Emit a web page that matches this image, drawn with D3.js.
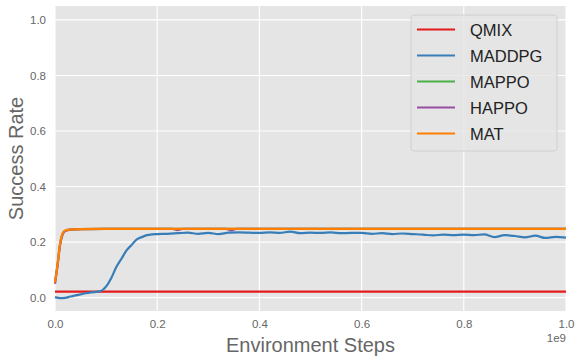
<!DOCTYPE html>
<html>
<head>
<meta charset="utf-8">
<script src="https://cdn.jsdelivr.net/npm/d3@7"></script>
<style>
  body { margin: 0; background: #fff; }
  text { font-family: "Liberation Sans", Arial, sans-serif; }
</style>
</head>
<body>
<div id="chart"></div>
<script>
// series names and colours (Set1-like)
const names = ['QMIX', 'MADDPG', 'MAPPO', 'HAPPO', 'MAT'];
const colors = ['#e41a1c', '#377eb8', '#4daf4a', '#984ea3', '#ff7f00'];

// x in units of 1e9 steps
const qmix = [[0, 0.022], [1.0, 0.022]];

const maddpg = [
  [0.000, 0.002], [0.01, -0.002], [0.02, -0.001], [0.03, 0.004], [0.04, 0.008],
  [0.05, 0.012], [0.06, 0.016], [0.07, 0.019], [0.08, 0.021], [0.09, 0.024],
  [0.10, 0.04], [0.11, 0.07], [0.12, 0.11], [0.13, 0.14], [0.14, 0.17],
  [0.15, 0.19], [0.16, 0.21], [0.17, 0.218], [0.18, 0.225], [0.19, 0.228],
  [0.20, 0.229], [0.22, 0.230], [0.24, 0.232], [0.26, 0.234], [0.28, 0.230],
  [0.30, 0.233], [0.32, 0.229], [0.34, 0.234], [0.36, 0.235], [0.38, 0.234],
  [0.40, 0.233], [0.42, 0.235], [0.44, 0.233], [0.46, 0.238], [0.48, 0.232],
  [0.50, 0.234], [0.52, 0.233], [0.54, 0.235], [0.56, 0.232], [0.58, 0.233],
  [0.60, 0.233], [0.62, 0.230], [0.64, 0.232], [0.66, 0.229], [0.68, 0.231],
  [0.70, 0.229], [0.72, 0.227], [0.74, 0.224], [0.76, 0.227], [0.78, 0.225],
  [0.80, 0.227], [0.82, 0.225], [0.84, 0.228], [0.86, 0.218], [0.88, 0.225],
  [0.90, 0.222], [0.92, 0.217], [0.94, 0.223], [0.96, 0.215], [0.98, 0.219],
  [1.00, 0.216]
];

const mappo = [
  [0, 0.055], [0.005, 0.12], [0.01, 0.195], [0.015, 0.23], [0.02, 0.241],
  [0.03, 0.245], [0.05, 0.247], [0.1, 0.248], [0.5, 0.248], [1.0, 0.248]
];

const happo = [
  [0, 0.05], [0.005, 0.115], [0.01, 0.19], [0.015, 0.228], [0.02, 0.24],
  [0.03, 0.245], [0.05, 0.247], [0.1, 0.248], [0.23, 0.248], [0.24, 0.243],
  [0.25, 0.248], [0.335, 0.248], [0.345, 0.242], [0.355, 0.248], [1.0, 0.248]
];

const mat = [
  [0, 0.055], [0.005, 0.12], [0.01, 0.195], [0.015, 0.232], [0.02, 0.242],
  [0.03, 0.245], [0.05, 0.247], [0.1, 0.248], [0.5, 0.248], [1.0, 0.248]
];

const allSeries = [qmix, maddpg, mappo, happo, mat];
const xTicks = [0, 0.2, 0.4, 0.6, 0.8, 1.0];
const yTicks = [0, 0.2, 0.4, 0.6, 0.8, 1.0];

const width = 581, height = 361;
const margin = { left: 55, right: 15, top: 6, bottom: 50 };

const svg = d3.select('#chart').append('svg')
  .attr('width', width)
  .attr('height', height);

const x = d3.scaleLinear().domain([0, 1]).range([margin.left, width - margin.right]);
const y = d3.scaleLinear().domain([-0.048, 1.05]).range([height - margin.bottom, margin.top]);

// plot background
svg.append('rect')
  .attr('x', margin.left).attr('y', margin.top)
  .attr('width', x(1) - x(0)).attr('height', y(-0.048) - y(1.05))
  .attr('fill', '#e5e5e5');

// grid
const grid = svg.append('g');
grid.selectAll('.gx').data(xTicks).join('line')
  .attr('x1', d => x(d)).attr('x2', d => x(d))
  .attr('y1', margin.top).attr('y2', height - margin.bottom)
  .attr('stroke', '#fff').attr('stroke-width', 1.1);
grid.selectAll('.gy').data(yTicks).join('line')
  .attr('x1', margin.left).attr('x2', width - margin.right)
  .attr('y1', d => y(d)).attr('y2', d => y(d))
  .attr('stroke', '#fff').attr('stroke-width', 1.1);

// axes
const xAxis = d3.axisBottom(x).tickValues(xTicks).tickFormat(d3.format('.1f')).tickSize(0).tickPadding(9);
const yAxis = d3.axisLeft(y).tickValues(yTicks).tickFormat(d3.format('.1f')).tickSize(0).tickPadding(9);

const gx = svg.append('g')
  .attr('transform', `translate(0,${height - margin.bottom})`)
  .call(xAxis);
const gy = svg.append('g')
  .attr('transform', `translate(${margin.left},0)`)
  .call(yAxis);
[gx, gy].forEach(g => {
  g.select('.domain').remove();
  g.selectAll('text').attr('fill', '#666').attr('font-size', 11.5)
    .style('font-family', '"Liberation Sans", Arial, sans-serif');
});

// lines
const line = d3.line()
  .x(d => x(d[0]))
  .y(d => y(d[1]))
  .curve(d3.curveMonotoneX);

allSeries.forEach((s, i) => {
  svg.append('path')
    .datum(s)
    .attr('fill', 'none')
    .attr('stroke', colors[i])
    .attr('stroke-width', 2.2)
    .attr('d', line);
});

// axis labels
svg.append('text')
  .attr('x', (x(0) + x(1)) / 2).attr('y', 352)
  .attr('text-anchor', 'middle')
  .attr('font-size', 20).attr('fill', '#666')
  .text('Environment Steps');

svg.append('text')
  .attr('transform', `translate(23,${(y(-0.048) + y(1.05)) / 2}) rotate(-90)`)
  .attr('text-anchor', 'middle')
  .attr('font-size', 20).attr('fill', '#666')
  .text('Success Rate');

svg.append('text')
  .attr('x', x(1)).attr('y', 342)
  .attr('text-anchor', 'end')
  .attr('font-size', 11.5).attr('fill', '#666')
  .text('1e9');

// legend
const legend = svg.append('g');
legend.append('rect')
  .attr('x', 411).attr('y', 15)
  .attr('width', 146).attr('height', 136)
  .attr('rx', 3)
  .attr('fill', '#e5e5e5').attr('fill-opacity', 0.8)
  .attr('stroke', '#d0d0d0').attr('stroke-width', 1);

names.forEach((n, i) => {
  const ly = 29.5 + i * 26;
  legend.append('line')
    .attr('x1', 417).attr('x2', 455)
    .attr('y1', ly).attr('y2', ly)
    .attr('stroke', colors[i]).attr('stroke-width', 2.2);
  legend.append('text')
    .attr('x', 470).attr('y', ly + 6)
    .attr('font-size', 16.5).attr('fill', '#222')
    .text(n);
});
</script>
</body>
</html>
